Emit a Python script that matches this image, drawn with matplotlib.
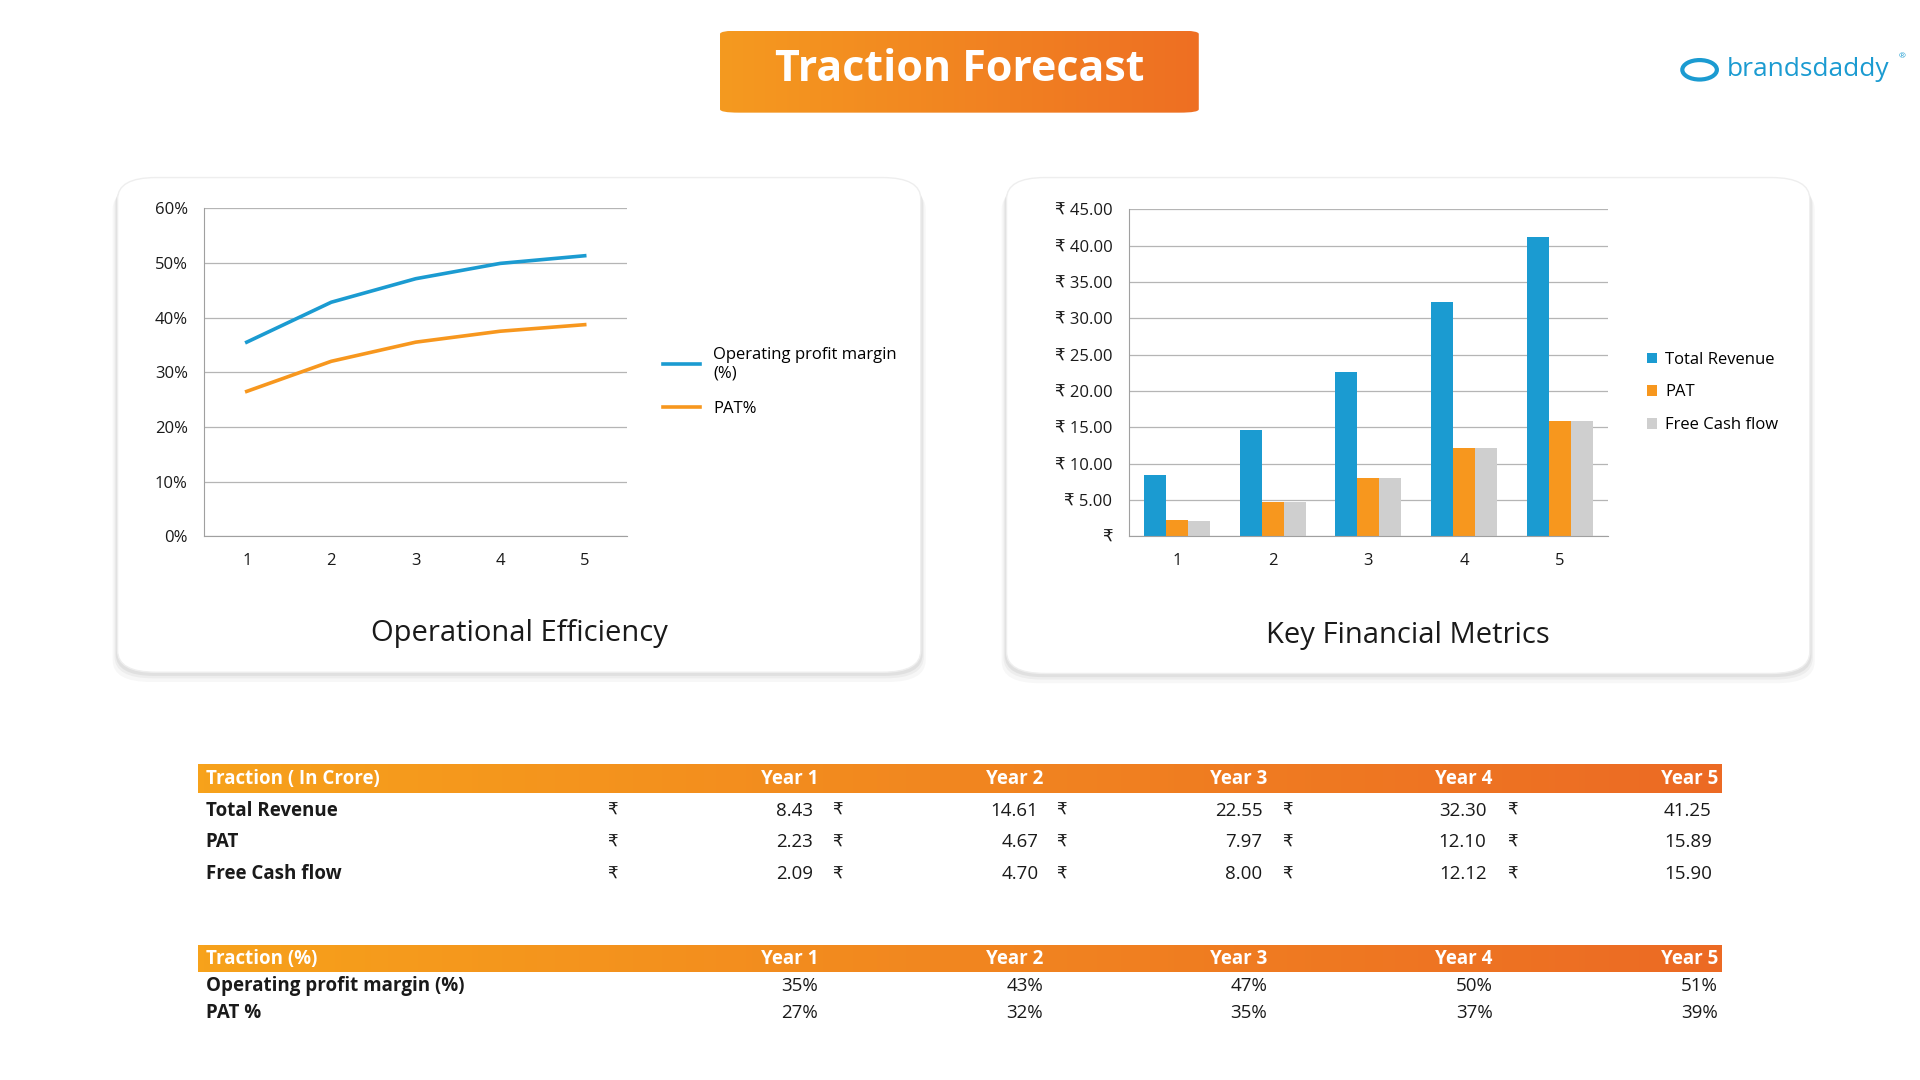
"""Builds the Traction Forecast slide (two charts plus the summary tables) as out.png."""

from __future__ import annotations

import matplotlib.pyplot as plt
import numpy as np
from matplotlib.colors import LinearSegmentedColormap
from matplotlib.patches import FancyBboxPatch, Circle

W, H = 1568, 882  # layout grid the slide was measured on
BLUE = "#1b9bd1"
ORANGE = "#f7971e"
GREY = "#cfcfcf"
INK = "#1a1a1a"

YEARS = [1, 2, 3, 4, 5]
OPM = [0.355, 0.428, 0.471, 0.499, 0.513]
PAT_PCT = [0.265, 0.32, 0.355, 0.375, 0.387]
FIN = {
    "Total Revenue": [8.43, 14.61, 22.55, 32.30, 41.25],
    "PAT": [2.23, 4.67, 7.97, 12.10, 15.89],
    "Free Cash flow": [2.09, 4.70, 8.00, 12.12, 15.90],
}
PCT_ROWS = {"Operating profit margin (%)": ["35%", "43%", "47%", "50%", "51%"], "PAT %": ["27%", "32%", "35%", "37%", "39%"]}


def fx(x):
    return x / W


def fy(y):
    return 1 - y / H


def _rect(x0, y0, x1, y1):
    return [fx(x0), fy(y1), fx(x1) - fx(x0), fy(y0) - fy(y1)]


def _gradient_bar(fig, x0, y0, x1, y1, c0="#f7a21b", c1="#ec6a24", rounded=False):
    ax = fig.add_axes(_rect(x0, y0, x1, y1), zorder=1)
    grad = np.linspace(0, 1, 256).reshape(1, -1)
    cmap = LinearSegmentedColormap.from_list("o", [c0, c1])
    im = ax.imshow(grad, aspect="auto", cmap=cmap, extent=[0, 1, 0, 1])
    ax.set_xlim(0, 1)
    ax.set_ylim(0, 1)
    if rounded:  # pill shape for the title
        clip = FancyBboxPatch((0, 0), 1, 1, boxstyle="round,pad=0,rounding_size=0.04", mutation_aspect=(y1 - y0) / (x1 - x0) * 6,
                              transform=ax.transAxes, facecolor="none", edgecolor="none")
        ax.add_patch(clip)
        im.set_clip_path(clip)
    ax.set_axis_off()
    return ax


def _panel(fig, x0, y0, x1, y1):
    for off, a in [(8, 0.03), (5, 0.04), (3, 0.05)]:  # soft drop shadow
        fig.patches.append(FancyBboxPatch((fx(x0 - off / 2), fy(y1 + off)), fx(x1 - x0 + off), fy(y0) - fy(y1), boxstyle="round,pad=0,rounding_size=0.02",
                                          transform=fig.transFigure, facecolor="black", alpha=a, edgecolor="none", zorder=0))
    fig.patches.append(FancyBboxPatch((fx(x0), fy(y1)), fx(x1 - x0), fy(y0) - fy(y1), boxstyle="round,pad=0,rounding_size=0.02",
                                      transform=fig.transFigure, facecolor="white", edgecolor="#eeeeee", zorder=0))


def _style_axes(ax):
    ax.grid(axis="y", color="#b5b5b5", linewidth=0.9)
    ax.set_axisbelow(True)
    for s in ["top", "right"]:
        ax.spines[s].set_visible(False)
    ax.spines["left"].set_color("#a0a0a0")
    ax.spines["bottom"].set_color("#a0a0a0")
    ax.tick_params(axis="both", labelsize=12, length=0, pad=12, colors=INK)
    ax.set_facecolor("none")


def main() -> None:
    plt.rcParams["font.family"] = ["Open Sans", "DejaVu Sans"]
    fig = plt.figure(figsize=(19.2, 10.8), dpi=100)

    # title pill
    _gradient_bar(fig, 588, 25, 979, 92, c0="#f59a1f", c1="#ee6f23", rounded=True)
    fig.text(fx(784), fy(57), "Traction Forecast", ha="center", va="center", color="white", fontsize=31, fontweight="bold", zorder=3)
    # logo
    fig.patches.append(Circle((fx(1388), fy(57)), 0.009, transform=fig.transFigure, facecolor="white", edgecolor=BLUE, linewidth=3))
    fig.text(fx(1410), fy(57), "brandsdaddy", ha="left", va="center", color=BLUE, fontsize=19)
    fig.text(fx(1553), fy(46), "®", ha="center", va="center", color=BLUE, fontsize=6)

    # left panel: operating efficiency
    _panel(fig, 96, 145, 752, 549)
    ax1 = fig.add_axes(_rect(167, 170, 512, 438), zorder=2)
    ax1.plot(YEARS, OPM, color=BLUE, linewidth=2.6, label="Operating profit margin\n(%)")
    ax1.plot(YEARS, PAT_PCT, color=ORANGE, linewidth=2.6, label="PAT%")
    ax1.set_xlim(0.5, 5.5)
    ax1.set_ylim(0, 0.6)
    ax1.set_xticks(YEARS)
    ax1.set_yticks(np.arange(0, 0.61, 0.1))
    ax1.set_yticklabels([f"{int(round(v * 100))}%" for v in np.arange(0, 0.61, 0.1)])
    _style_axes(ax1)
    ax1.legend(loc="center left", bbox_to_anchor=(1.05, 0.47), frameon=False, fontsize=12, handlelength=2.2, labelspacing=1.2)
    fig.text(fx(424), fy(517), "Operational Efficiency", ha="center", va="center", fontsize=21, color=INK)

    # right panel: key financial metrics
    _panel(fig, 822, 145, 1478, 550)
    ax2 = fig.add_axes(_rect(922, 171, 1313, 438), zorder=2)
    x = np.arange(len(YEARS))
    w = 0.23
    for i, (name, color) in enumerate(zip(FIN, [BLUE, ORANGE, GREY])):
        ax2.bar(x + (i - 1) * w, FIN[name], width=w, color=color, label=name)
    ax2.set_xlim(-0.5, 4.5)
    ax2.set_ylim(0, 45)
    ax2.set_xticks(x)
    ax2.set_xticklabels(YEARS)
    ax2.set_yticks(np.arange(0, 46, 5))
    ax2.set_yticklabels(["₹"] + [f"₹ {v:.2f}" for v in np.arange(5, 46, 5)])
    _style_axes(ax2)
    ax2.legend(loc="center left", bbox_to_anchor=(1.05, 0.44), frameon=False, fontsize=12, handlelength=0.6, handleheight=0.6, labelspacing=1.0,
               handletextpad=0.5)
    fig.text(fx(1150), fy(519), "Key Financial Metrics", ha="center", va="center", fontsize=21, color=INK)

    year_x = [668, 852, 1035, 1219, 1403]
    rupee_x = [500, 684, 867, 1051, 1235]
    val_x = [664, 848, 1031, 1214, 1398]

    # table 1 (in crore)
    _gradient_bar(fig, 162, 624, 1406, 648)
    fig.text(fx(168), fy(636), "Traction ( In Crore)", ha="left", va="center", color="white", fontsize=13.5, fontweight="bold", zorder=3)
    for xx, yr in zip(year_x, YEARS):
        fig.text(fx(xx), fy(636), f"Year {yr}", ha="right", va="center", color="white", fontsize=13.5, fontweight="bold", zorder=3)
    for row_y, (name, vals) in zip([662, 688, 714], FIN.items()):
        fig.text(fx(168), fy(row_y), name, ha="left", va="center", color=INK, fontsize=13.5, fontweight="bold")
        for rx, vx, v in zip(rupee_x, val_x, vals):
            fig.text(fx(rx), fy(row_y), "₹", ha="center", va="center", color=INK, fontsize=12, family="DejaVu Sans")
            fig.text(fx(vx), fy(row_y), f"{v:.2f}", ha="right", va="center", color=INK, fontsize=13.5)

    # table 2 (percent)
    _gradient_bar(fig, 162, 772, 1406, 794)
    fig.text(fx(168), fy(783), "Traction (%)", ha="left", va="center", color="white", fontsize=13.5, fontweight="bold", zorder=3)
    for xx, yr in zip(year_x, YEARS):
        fig.text(fx(xx), fy(783), f"Year {yr}", ha="right", va="center", color="white", fontsize=13.5, fontweight="bold", zorder=3)
    for row_y, (name, vals) in zip([805, 827], PCT_ROWS.items()):
        fig.text(fx(168), fy(row_y), name, ha="left", va="center", color=INK, fontsize=13.5, fontweight="bold")
        for xx, v in zip(year_x, vals):
            fig.text(fx(xx), fy(row_y), v, ha="right", va="center", color=INK, fontsize=13.5)

    fig.savefig("out.png", dpi=100, facecolor="white")
    plt.close(fig)


if __name__ == "__main__":
    main()
